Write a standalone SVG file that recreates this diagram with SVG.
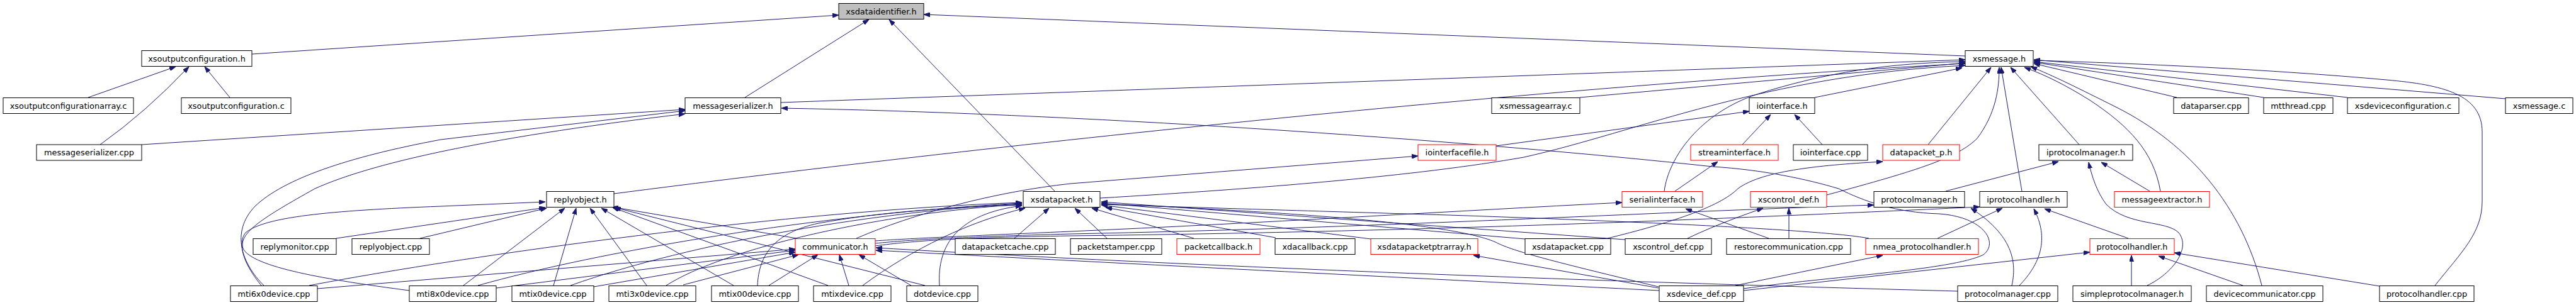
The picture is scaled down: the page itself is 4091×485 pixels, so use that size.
<svg xmlns="http://www.w3.org/2000/svg" width="4091" height="485" viewBox="0 0 4091 485">
<style>
.node rect{fill:#fff;stroke:#000;stroke-width:1}
.node.red rect{stroke:#f00}
.node.root rect{fill:#bfbfbf}
.node text{font-family:"DejaVu Sans",sans-serif;font-size:12.9px;fill:#000;text-anchor:middle}
.edges path{fill:none;stroke:#191970;stroke-width:1;marker-end:url(#ah)}
</style>
<defs>
<marker id="ah" viewBox="0 0 10 7" refX="10" refY="3.5" markerWidth="10" markerHeight="7" markerUnits="userSpaceOnUse" orient="auto">
<path d="M0,0 L10,3.5 L0,7 z" fill="#191970" stroke="#191970"/>
</marker>
</defs>
<rect width="4091" height="485" fill="#fff"/>
<g class="edges">
<path d="M400,86 L1332,24"/>
<path d="M1183,155 L1380,31"/>
<path d="M1675,304 L1412,31"/>
<path d="M3121,89 L1467,23"/>
<path d="M140,155 L279,106"/>
<path d="M159,230 Q232,178 300,106"/>
<path d="M365,155 L325,106"/>
<path d="M225,230 L1088,174"/>
<path d="M419,454 C385,420 365,370 405,328 C450,285 550,250 700,222 L1088,176"/>
<path d="M650,462 C520,445 400,425 386,395 C378,370 420,345 500,300 C600,255 800,215 1088,181"/>
<path d="M415,454 C383,415 378,385 390,370 C420,345 520,335 700,328 L866,321"/>
<path d="M534,379 L866,330"/>
<path d="M667,379 L868,331"/>
<path d="M736,454 L897,331"/>
<path d="M879,454 L915,331"/>
<path d="M1027,454 L937,331"/>
<path d="M1165,454 L955,331"/>
<path d="M1315,454 L973,330"/>
<path d="M1469,454 L976,330"/>
<path d="M1265,379 L972,329"/>
<path d="M975,308 C1500,240 2400,140 3121,101"/>
<path d="M491,454 C750,405 1250,335 1623,322"/>
<path d="M504,459 L1263,396"/>
<path d="M759,454 C950,400 1300,340 1623,323"/>
<path d="M788,458 L1263,398"/>
<path d="M906,454 C1100,385 1400,335 1623,324"/>
<path d="M943,456 L1263,401"/>
<path d="M1058,454 C1150,395 1400,338 1623,325"/>
<path d="M1085,453 L1268,405"/>
<path d="M1203,454 C1205,405 1230,370 1300,355 C1400,337 1500,330 1623,326"/>
<path d="M1221,454 L1299,405"/>
<path d="M1348,454 L1333,405"/>
<path d="M1370,454 C1450,395 1540,352 1628,331"/>
<path d="M1447,454 L1364,405"/>
<path d="M1492,454 C1488,390 1520,340 1623,327"/>
<path d="M1360,379 C1450,340 1580,305 1700,292 L2252,248"/>
<path d="M1390,383 C1450,379 1520,376 1700,368 C2000,355 2300,336 2576,322"/>
<path d="M1390,387 C1450,381 1520,377 1700,372 C2200,362 2600,338 2976,326"/>
<path d="M1390,391 C1450,383 1520,378 1700,375 C2300,368 2800,345 3144,329"/>
<path d="M1747,315 C2000,300 2250,280 2420,250 C2600,210 2800,120 3121,104"/>
<path d="M1611,379 L1666,331"/>
<path d="M1758,379 L1707,331"/>
<path d="M1896,379 L1734,331"/>
<path d="M2026,378 L1756,330"/>
<path d="M2177,380 L1749,326"/>
<path d="M2422,380 L1749,323"/>
<path d="M2581,381 L1749,321"/>
<path d="M2634,456 C2450,412 2400,398 2375,385 C2300,352 2000,335 1749,324"/>
<path d="M2968,379 C2900,366 2600,352 2300,342 C2100,336 1900,330 1749,325"/>
<path d="M2553,379 C2650,355 2730,330 2760,300 C2800,270 2900,262 2990,257"/>
<path d="M2635,462 C2300,445 1800,420 1391,398"/>
<path d="M3109,463 C2700,452 2000,430 1391,394"/>
<path d="M2634,458 L2340,406"/>
<path d="M2756,454 L2990,406"/>
<path d="M2769,462 L3319,401"/>
<path d="M2769,459 C2900,440 3100,430 3150,405 C3175,385 3150,345 3080,340 C3010,338 2960,320 2920,300 C2870,285 2800,270 2720,265 C2300,220 1700,180 1241,172"/>
<path d="M3077,379 L3180,331"/>
<path d="M2809,379 L2677,332"/>
<path d="M2841,379 L2841,331"/>
<path d="M2680,379 C2720,360 2760,345 2800,331"/>
<path d="M2660,304 L2728,257"/>
<path d="M2643,304 C2650,250 2700,180 2790,150 C2900,115 3000,100 3121,98"/>
<path d="M2767,230 L2812,182"/>
<path d="M2894,230 L2850,182"/>
<path d="M2376,232 L2778,177"/>
<path d="M2882,155 L3116,108"/>
<path d="M2509,155 L3121,100"/>
<path d="M1240,163 L3121,95"/>
<path d="M3062,230 L3162,107"/>
<path d="M2901,310 C3050,270 3110,250 3140,220 C3170,180 3175,140 3175,107"/>
<path d="M3211,304 L3178,107"/>
<path d="M3302,230 L3193,107"/>
<path d="M3431,304 C3420,240 3380,200 3320,160 C3280,135 3250,120 3215,107"/>
<path d="M3592,454 C3560,330 3480,230 3360,170 C3300,140 3260,120 3225,106"/>
<path d="M3867,454 C3910,400 3942,370 3942,320 L3942,210 C3942,150 3880,135 3790,127 C3600,110 3400,101 3230,96"/>
<path d="M3457,155 L3230,101"/>
<path d="M3595,155 L3230,99"/>
<path d="M3728,155 L3230,98"/>
<path d="M3979,157 L3230,95"/>
<path d="M3090,304 L3269,257"/>
<path d="M3414,304 L3337,258"/>
<path d="M3410,454 C3450,435 3480,395 3460,370 C3440,350 3380,360 3345,325 C3330,305 3322,280 3317,258"/>
<path d="M3385,454 L3385,406"/>
<path d="M3562,454 L3428,407"/>
<path d="M3779,455 L3453,402"/>
<path d="M3380,379 L3247,332"/>
<path d="M3207,454 C3240,420 3255,380 3230,332"/>
<path d="M3195,454 C3205,410 3190,370 3130,331"/>
</g>
<g id="xsdataidentifier_h" class="node root"><rect x="1332" y="5.5" width="135" height="25"/><text x="1399.5" y="22.5">xsdataidentifier.h</text></g>
<g id="xsoutputconfiguration_h" class="node"><rect x="225" y="80.5" width="175" height="25"/><text x="312.5" y="97.5">xsoutputconfiguration.h</text></g>
<g id="xsmessage_h" class="node"><rect x="3121" y="80.5" width="108" height="25"/><text x="3175" y="97.5">xsmessage.h</text></g>
<g id="xsoutputconfigurationarray_c" class="node"><rect x="5" y="155.5" width="207" height="25"/><text x="108.5" y="172.5">xsoutputconfigurationarray.c</text></g>
<g id="xsoutputconfiguration_c" class="node"><rect x="288" y="155.5" width="174" height="25"/><text x="375" y="172.5">xsoutputconfiguration.c</text></g>
<g id="messageserializer_h" class="node"><rect x="1088" y="155.5" width="152" height="25"/><text x="1164" y="172.5">messageserializer.h</text></g>
<g id="xsmessagearray_c" class="node"><rect x="2369" y="155.5" width="140" height="25"/><text x="2439" y="172.5">xsmessagearray.c</text></g>
<g id="iointerface_h" class="node"><rect x="2778" y="155.5" width="104" height="25"/><text x="2830" y="172.5">iointerface.h</text></g>
<g id="dataparser_cpp" class="node"><rect x="3452" y="155.5" width="119" height="25"/><text x="3511.5" y="172.5">dataparser.cpp</text></g>
<g id="mtthread_cpp" class="node"><rect x="3595" y="155.5" width="110" height="25"/><text x="3650" y="172.5">mtthread.cpp</text></g>
<g id="xsdeviceconfiguration_c" class="node"><rect x="3728" y="155.5" width="177" height="25"/><text x="3816.5" y="172.5">xsdeviceconfiguration.c</text></g>
<g id="xsmessage_c" class="node"><rect x="3979" y="155.5" width="107" height="25"/><text x="4032.5" y="172.5">xsmessage.c</text></g>
<g id="messageserializer_cpp" class="node"><rect x="58" y="230" width="167" height="25"/><text x="141.5" y="247">messageserializer.cpp</text></g>
<g id="iointerfacefile_h" class="node red"><rect x="2252" y="230" width="124" height="25"/><text x="2314" y="247">iointerfacefile.h</text></g>
<g id="streaminterface_h" class="node red"><rect x="2685" y="230" width="139" height="25"/><text x="2754.5" y="247">streaminterface.h</text></g>
<g id="iointerface_cpp" class="node"><rect x="2848" y="230" width="118" height="25"/><text x="2907" y="247">iointerface.cpp</text></g>
<g id="datapacket_p_h" class="node red"><rect x="2990" y="230" width="122" height="25"/><text x="3051" y="247">datapacket_p.h</text></g>
<g id="iprotocolmanager_h" class="node"><rect x="3238" y="230" width="149" height="25"/><text x="3312.5" y="247">iprotocolmanager.h</text></g>
<g id="replyobject_h" class="node"><rect x="868" y="304.5" width="107" height="25"/><text x="921.5" y="321.5">replyobject.h</text></g>
<g id="xsdatapacket_h" class="node"><rect x="1625" y="304.5" width="122" height="25"/><text x="1686" y="321.5">xsdatapacket.h</text></g>
<g id="serialinterface_h" class="node red"><rect x="2576" y="304.5" width="128" height="25"/><text x="2640" y="321.5">serialinterface.h</text></g>
<g id="xscontrol_def_h" class="node red"><rect x="2780" y="304.5" width="121" height="25"/><text x="2840.5" y="321.5">xscontrol_def.h</text></g>
<g id="protocolmanager_h" class="node"><rect x="2976" y="304.5" width="144" height="25"/><text x="3048" y="321.5">protocolmanager.h</text></g>
<g id="iprotocolhandler_h" class="node"><rect x="3144" y="304.5" width="139" height="25"/><text x="3213.5" y="321.5">iprotocolhandler.h</text></g>
<g id="messageextractor_h" class="node red"><rect x="3358" y="304.5" width="151" height="25"/><text x="3433.5" y="321.5">messageextractor.h</text></g>
<g id="replymonitor_cpp" class="node"><rect x="402" y="379.5" width="132" height="25"/><text x="468" y="396.5">replymonitor.cpp</text></g>
<g id="replyobject_cpp" class="node"><rect x="559" y="379.5" width="123" height="25"/><text x="620.5" y="396.5">replyobject.cpp</text></g>
<g id="communicator_h" class="node red"><rect x="1263" y="379.5" width="127" height="25"/><text x="1326.5" y="396.5">communicator.h</text></g>
<g id="datapacketcache_cpp" class="node"><rect x="1517" y="379.5" width="159" height="25"/><text x="1596.5" y="396.5">datapacketcache.cpp</text></g>
<g id="packetstamper_cpp" class="node"><rect x="1700" y="379.5" width="145" height="25"/><text x="1772.5" y="396.5">packetstamper.cpp</text></g>
<g id="packetcallback_h" class="node red"><rect x="1869" y="379.5" width="132" height="25"/><text x="1935" y="396.5">packetcallback.h</text></g>
<g id="xdacallback_cpp" class="node"><rect x="2025" y="379.5" width="127" height="25"/><text x="2088.5" y="396.5">xdacallback.cpp</text></g>
<g id="xsdatapacketptrarray_h" class="node red"><rect x="2177" y="379.5" width="170" height="25"/><text x="2262" y="396.5">xsdatapacketptrarray.h</text></g>
<g id="xsdatapacket_cpp" class="node"><rect x="2422" y="379.5" width="136" height="25"/><text x="2490" y="396.5">xsdatapacket.cpp</text></g>
<g id="xscontrol_def_cpp" class="node"><rect x="2581" y="379.5" width="137" height="25"/><text x="2649.5" y="396.5">xscontrol_def.cpp</text></g>
<g id="restorecommunication_cpp" class="node"><rect x="2742" y="379.5" width="197" height="25"/><text x="2840.5" y="396.5">restorecommunication.cpp</text></g>
<g id="nmea_protocolhandler_h" class="node red"><rect x="2963" y="379.5" width="179" height="25"/><text x="3052.5" y="396.5">nmea_protocolhandler.h</text></g>
<g id="protocolhandler_h" class="node red"><rect x="3319" y="379.5" width="134" height="25"/><text x="3386" y="396.5">protocolhandler.h</text></g>
<g id="mti6x0device_cpp" class="node"><rect x="366" y="454.5" width="138" height="25"/><text x="435" y="471.5">mti6x0device.cpp</text></g>
<g id="mti8x0device_cpp" class="node"><rect x="650" y="454.5" width="138" height="25"/><text x="719" y="471.5">mti8x0device.cpp</text></g>
<g id="mtix0device_cpp" class="node"><rect x="813" y="454.5" width="130" height="25"/><text x="878" y="471.5">mtix0device.cpp</text></g>
<g id="mti3x0device_cpp" class="node"><rect x="967" y="454.5" width="138" height="25"/><text x="1036" y="471.5">mti3x0device.cpp</text></g>
<g id="mtix00device_cpp" class="node"><rect x="1130" y="454.5" width="138" height="25"/><text x="1199" y="471.5">mtix00device.cpp</text></g>
<g id="mtixdevice_cpp" class="node"><rect x="1292" y="454.5" width="123" height="25"/><text x="1353.5" y="471.5">mtixdevice.cpp</text></g>
<g id="dotdevice_cpp" class="node"><rect x="1440" y="454.5" width="113" height="25"/><text x="1496.5" y="471.5">dotdevice.cpp</text></g>
<g id="xsdevice_def_cpp" class="node"><rect x="2635" y="454.5" width="134" height="25"/><text x="2702" y="471.5">xsdevice_def.cpp</text></g>
<g id="protocolmanager_cpp" class="node"><rect x="3109" y="454.5" width="159" height="25"/><text x="3188.5" y="471.5">protocolmanager.cpp</text></g>
<g id="simpleprotocolmanager_h" class="node"><rect x="3292" y="454.5" width="188" height="25"/><text x="3386" y="471.5">simpleprotocolmanager.h</text></g>
<g id="devicecommunicator_cpp" class="node"><rect x="3504" y="454.5" width="185" height="25"/><text x="3596.5" y="471.5">devicecommunicator.cpp</text></g>
<g id="protocolhandler_cpp" class="node"><rect x="3779" y="454.5" width="150" height="25"/><text x="3854" y="471.5">protocolhandler.cpp</text></g>
</svg>
